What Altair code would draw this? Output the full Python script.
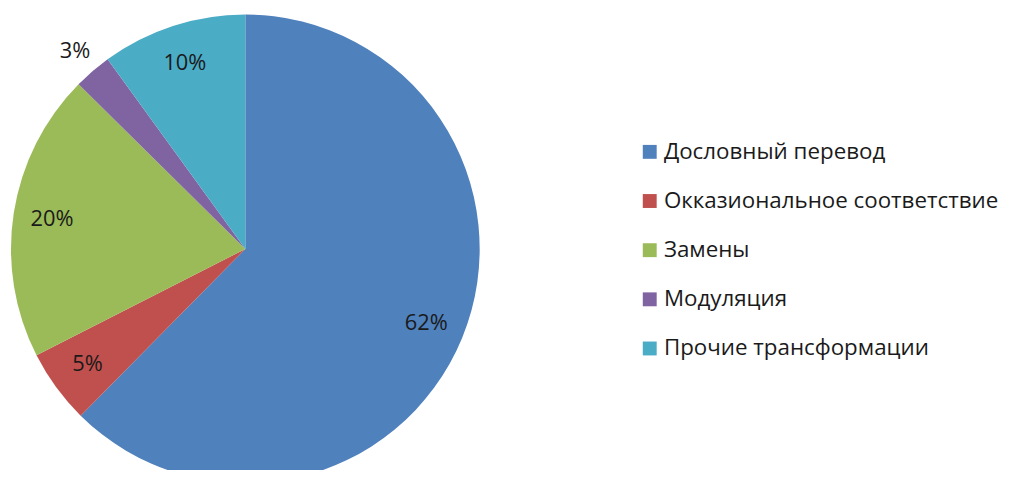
import altair as alt
import pandas as pd

categories = ["Дословный перевод", "Окказиональное соответствие", "Замены", "Модуляция", "Прочие трансформации"]
values = [62.4, 5.1, 19.9, 2.6, 10.0]
colors = ["#4F81BD", "#C0504D", "#9BBB59", "#8064A2", "#4BACC6"]

df = pd.DataFrame({"category": categories, "value": values, "idx": list(range(len(categories)))})

FONT = "Open Sans"
CX, CY = 239, 241

base = alt.Chart(df).encode(
    theta=alt.Theta("value:Q", stack=True),
    order=alt.Order("idx:Q"),
)

pie = base.mark_arc(radius=236, strokeWidth=0).encode(
    x=alt.value(CX),
    y=alt.value(CY),
    color=alt.Color(
        "category:N",
        sort=categories,
        scale=alt.Scale(domain=categories, range=colors),
        legend=alt.Legend(
            title=None,
            orient="none",
            legendX=635,
            legendY=132,
            symbolType="square",
            symbolSize=196,
            symbolStrokeWidth=0,
            labelFont=FONT,
            labelFontSize=22.5,
            labelColor="#1a1a1a",
            labelOffset=3,
            rowPadding=26.5,
            labelLimit=500,
        ),
    ),
)

lab = base.transform_calculate(
    inner="datum.value >= 3 ? round(datum.value) + '%' : ''",
    outer="datum.value < 3 ? round(datum.value) + '%' : ''",
)

inner = lab.mark_text(font=FONT, fontSize=22, color="#1a1a1a", radius=197).encode(
    x=alt.value(CX), y=alt.value(CY), text="inner:N"
)
outer = lab.mark_text(font=FONT, fontSize=22, color="#1a1a1a", radius=263).encode(
    x=alt.value(CX), y=alt.value(CY), text="outer:N"
)

chart = alt.layer(pie, inner, outer).properties(
    width=1002, height=462, autosize="none", padding=0
).configure_view(stroke=None)

chart.save("out.html", embed_options={"renderer": "svg", "actions": False})
